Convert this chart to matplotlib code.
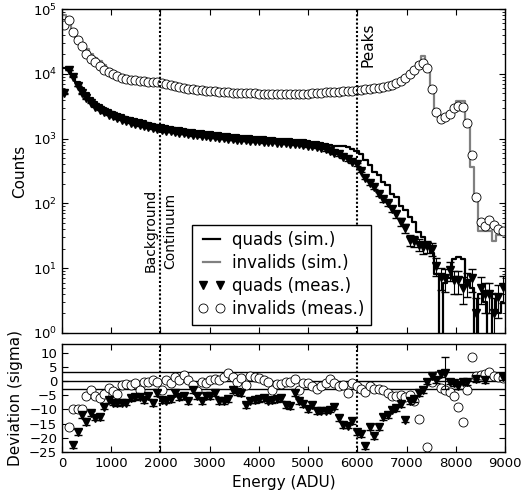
import numpy as np
import matplotlib
matplotlib.use("Agg")
import matplotlib.pyplot as plt

# Energy bins (ADU), 90 ADU wide
energy = np.arange(45, 9000, 90)

# Top panel: counts per bin
quads_sim = [12500, 12000, 9500, 7500, 6000, 5000, 4300, 3700, 3300, 3000,
             2750, 2580, 2420, 2300, 2180, 2080, 1990, 1910, 1840, 1770,
             1710, 1650, 1600, 1560, 1520, 1480, 1440, 1400, 1370, 1340,
             1310, 1290, 1270, 1250, 1230, 1200, 1180, 1160, 1140, 1120,
             1100, 1090, 1080, 1070, 1050, 1040, 1030, 1010, 1000, 990,
             980, 970, 960, 950, 940, 920, 900, 880, 850, 820,
             790, 780, 770, 760, 740, 700, 640, 580, 460, 390,
             310, 270, 215, 190, 140, 125, 92, 80, 62, 52,
             36, 30, 21, 17, 8, 0, 6, 7, 14, 15,
             14, 6, 5, 0, 4, 3, 0, 4, 2, 3]
invalids_sim = [80000, 68000, 46000, 36000, 30000, 24000, 20000, 17500, 15500, 13500,
                11800, 10700, 9900, 9200, 8700, 8300, 8100, 7950, 7800, 7700,
                7600, 7500, 7350, 7050, 6750, 6500, 6250, 6050, 5900, 5800,
                5700, 5600, 5500, 5420, 5350, 5280, 5220, 5170, 5120, 5080,
                5050, 5020, 5000, 4980, 4960, 4940, 4920, 4900, 4890, 4880,
                4880, 4880, 4890, 4900, 4930, 4960, 5000, 5050, 5100, 5150,
                5200, 5250, 5300, 5350, 5420, 5500, 5580, 5660, 5750, 5850,
                5950, 6100, 6250, 6500, 6800, 7200, 7900, 8800, 10000, 11800,
                14500, 18800, 13000, 6000, 2500, 2000, 2200, 2500, 2900, 3850,
                3850, 1730, 370, 110, 37, 37, 37, 26, 32, 32]
quads_meas = [5000, 11500, 9000, 6500, 5000, 4200, 3600, 3100, 2800, 2550,
              2350, 2200, 2050, 1950, 1850, 1760, 1690, 1620, 1560, 1500,
              1450, 1400, 1360, 1320, 1290, 1260, 1230, 1200, 1175, 1150,
              1130, 1110, 1090, 1070, 1050, 1030, 1010, 995, 980, 965,
              950, 940, 930, 920, 910, 900, 890, 880, 870, 860,
              850, 840, 830, 815, 800, 780, 760, 740, 710, 680,
              650, 610, 570, 525, 480, 440, 400, 320, 250, 205,
              180, 140, 115, 100, 82, 68, 52, 42, 27, 26,
              23, 21, 22, 20, 11, 7.4, 7, 9.4, 6.6, 6.6,
              5, 6, 7, 2, 5, 4, 4, 2, 3.6, 5.2]
invalids_meas = [56000, 68000, 44600, 33800, 26500, 20500, 17200, 15000, 13000, 11400,
                 10500, 9900, 9100, 8700, 8300, 8100, 7950, 7800, 7700, 7600,
                 7500, 7400, 7300, 7000, 6700, 6450, 6250, 6050, 5900, 5800,
                 5700, 5600, 5500, 5420, 5350, 5280, 5220, 5170, 5120, 5080,
                 5050, 5020, 5000, 4980, 4960, 4940, 4920, 4900, 4890, 4880,
                 4880, 4880, 4890, 4900, 4930, 4960, 5000, 5050, 5100, 5150,
                 5200, 5250, 5300, 5350, 5420, 5500, 5580, 5660, 5750, 5850,
                 5950, 6100, 6250, 6500, 6800, 7150, 7800, 8600, 9800, 11450,
                 13700, 14800, 12200, 5800, 2600, 2000, 2180, 2400, 2940, 3190,
                 3110, 1760, 560, 127, 52, 45, 55, 46, 40, 37]

# Bottom panel: deviation in sigma
nan = np.nan
quads_dev = [nan, nan, -22.6, -17.9, -11.9, -14.4, -11.4, -12.9, -12.7, -9.0,
             -6.6, -7.6, -7.8, -7.6, -7.6, -6.0, -5.7, -5.5, -6.6, -5.2,
             -7.8, -4.3, -6.6, -6.9, -6.4, -4.3, -5.7, -5.4, -7.2, -3.3,
             -5.4, -7.2, -5.4, -5.2, -4.3, -7.2, -7.2, -6.4, -3.3, -4.0,
             -4.3, -8.6, -6.9, -6.6, -6.4, -6.0, -6.9, -6.6, -6.4, -6.0,
             -8.4, -8.7, -4.3, -7.2, -8.0, -9.9, -8.4, -10.7, -10.4, -10.4,
             -10.1, -9.0, -13.0, -15.4, -15.7, -14.2, -18.1, -18.6, -22.8, -16.2,
             -19.5, -16.2, -12.7, -11.9, -10.1, -9.5, -8.0, -13.6, -7.0, -6.4,
             -4.3, -3.1, -0.2, 1.6, 0.4, 2.5, 2.8, -0.2, -0.7, -1.7,
             -0.2, -0.5, nan, 0.7, nan, 0.4, nan, nan, nan, 1.4]
invalids_dev = [nan, -16.2, -9.9, -9.9, -9.9, -5.2, -3.3, -5.2, -6.0, -4.5,
                -2.5, -3.7, -4.5, -1.6, -1.0, -1.3, -0.7, -3.3, -0.4, -0.4,
                0.4, -0.4, -3.1, 0.4, -0.7, 1.4, 0.4, 2.2, 0.4, -1.3,
                -3.7, -0.4, -0.7, 0.4, 0.7, 0.4, 1.4, 2.8, 1.4, -0.5,
                1.0, -1.3, 1.8, 1.4, 1.0, 0.4, -0.5, -3.1, -1.0, -1.0,
                -0.5, -0.2, 0.7, -3.1, -0.8, -0.8, -1.7, -2.9, -1.7, -0.8,
                0.7, -0.8, -1.9, -1.3, -4.3, -0.8, -1.9, -2.9, -4.0, -1.9,
                -2.9, -2.9, -3.1, -4.3, -5.4, -5.4, -4.9, -5.5, -4.9, -7.2,
                -13.4, nan, -23.2, -0.5, 1.6, -2.5, -3.1, -4.0, -5.4, -9.2,
                -14.6, -3.1, 8.3, 1.6, 2.2, 2.6, 3.0, 1.8, 1.4, 1.0]
quads_dev_err = np.ones(len(energy))
quads_dev_err[86] = 5.5

quads_meas = np.array(quads_meas, dtype=float)
quads_err = np.sqrt(quads_meas)

plt.rcParams['font.family'] = ['DejaVu Sans']
plt.rcParams['xtick.direction'] = 'in'
plt.rcParams['ytick.direction'] = 'in'
plt.rcParams['xtick.top'] = True
plt.rcParams['ytick.right'] = True
plt.rcParams['xtick.labelsize'] = 9.5
plt.rcParams['ytick.labelsize'] = 9.5
plt.rcParams['xtick.major.size'] = 4
plt.rcParams['ytick.major.size'] = 4
plt.rcParams['ytick.minor.size'] = 2
plt.rcParams['axes.linewidth'] = 1.0

fig = plt.figure(figsize=(5.21, 4.95), dpi=100)
ax1 = fig.add_axes([62/521, 1-333/495, 443/521, 324/495])
ax2 = fig.add_axes([62/521, 1-452/495, 443/521, 108/495])

# top panel
ax1.plot(energy, quads_sim, drawstyle='steps-mid', color='k', lw=1.6, label='quads (sim.)')
ax1.plot(energy, invalids_sim, drawstyle='steps-mid', color='0.5', lw=1.6, label='invalids (sim.)')
ax1.errorbar(energy, quads_meas, yerr=quads_err, fmt='none', ecolor='k', elinewidth=0.8, capsize=3)
ax1.plot(energy, quads_meas, 'v', color='k', ms=6, label='quads (meas.)')
ax1.plot(energy, invalids_meas, 'o', mfc='w', mec='k', mew=0.6, ms=6.5, label='invalids (meas.)')
ax1.set_yscale('log')
ax1.set_ylim(1, 1e5)
ax1.set_xlim(0, 9000)
ax1.set_xticks(np.arange(0, 9001, 1000))
ax1.set_xticklabels([])
ax1.set_ylabel('Counts', fontsize=11)
for xv in (2000, 6000):
    ax1.axvline(xv, color='k', ls=(0, (1, 1)), lw=1.5)
ax1.text(2000, 8.7, 'Background\nContinuum', rotation=90, ha='center', va='bottom',
         fontsize=10, multialignment='center', linespacing=1.45)
ax1.text(6060, 12600, 'Peaks', rotation=90, ha='left', va='bottom', fontsize=11)
leg = ax1.legend(loc='lower left', bbox_to_anchor=(0.293, 0.025), borderaxespad=0,
                 numpoints=2, fancybox=False, framealpha=1, edgecolor='k',
                 fontsize=12, handlelength=1.6, handletextpad=0.4, labelspacing=0.3,
                 borderpad=0.4)
leg.get_frame().set_linewidth(1.0)

# bottom panel
for yv in (-3, 0, 3):
    ax2.axhline(yv, color='k', lw=1.0)
for xv in (2000, 6000):
    ax2.axvline(xv, color='k', ls=(0, (1, 1)), lw=1.5)
ax2.plot(energy, invalids_dev, 'o', mfc='w', mec='k', mew=0.6, ms=6.5)
ax2.errorbar(energy, quads_dev, yerr=quads_dev_err, fmt='v', color='k', ms=6,
             elinewidth=0.8, capsize=3)
ax2.set_xlim(0, 9000)
ax2.set_ylim(-25, 13)
ax2.set_yticks([10, 5, 0, -5, -10, -15, -20, -25])
ax2.set_xticks(np.arange(0, 9001, 1000))
ax2.set_xlabel('Energy (ADU)', fontsize=11)
ax2.set_ylabel('Deviation (sigma)', fontsize=11)

fig.savefig('out.png', dpi=100)
